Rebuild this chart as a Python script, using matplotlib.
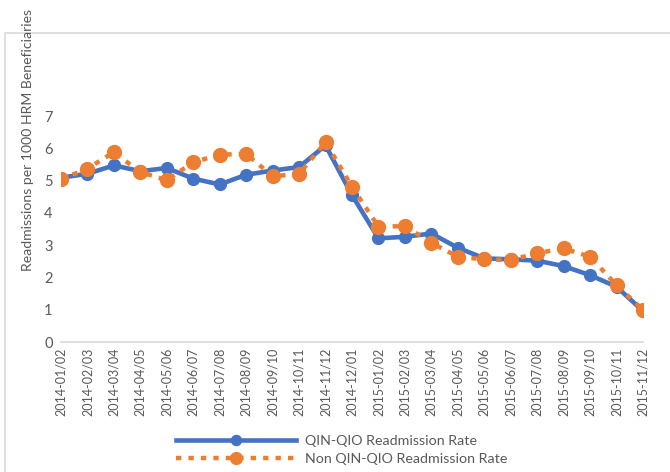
import matplotlib.pyplot as plt
from matplotlib.patches import Rectangle

# period labels (two-month windows)
periods = ['2014-01/02', '2014-02/03', '2014-03/04', '2014-04/05', '2014-05/06',
           '2014-06/07', '2014-07/08', '2014-08/09', '2014-09/10', '2014-10/11',
           '2014-11/12', '2014-12/01', '2015-01/02', '2015-02/03', '2015-03/04',
           '2015-04/05', '2015-05/06', '2015-06/07', '2015-07/08', '2015-08/09',
           '2015-09/10', '2015-10/11', '2015-11/12']

# readmissions per 1000 HRM beneficiaries
qin_qio = [5.09, 5.21, 5.47, 5.29, 5.39, 5.06, 4.88, 5.18, 5.31, 5.42, 6.09, 4.55,
           3.21, 3.26, 3.36, 2.92, 2.59, 2.56, 2.52, 2.35, 2.07, 1.71, 0.96]
non_qin_qio = [5.04, 5.37, 5.88, 5.26, 5.01, 5.57, 5.80, 5.83, 5.13, 5.21, 6.19, 4.81,
               3.57, 3.59, 3.07, 2.64, 2.56, 2.54, 2.75, 2.90, 2.64, 1.76, 0.99]

blue = '#4472C4'
orange = '#ED7D31'
grey = '#595959'

plt.rcParams['font.family'] = ['Lato', 'DejaVu Sans']

fig = plt.figure(figsize=(6.7, 4.72), dpi=100)
ax = fig.add_axes([61 / 670, 130 / 472, 582 / 670, 226 / 472])

x = list(range(len(periods)))
ax.plot(x, qin_qio, color=blue, lw=3.3, marker='o', ms=8.5,
        label='QIN-QIO Readmission Rate', zorder=2)
ax.plot(x, non_qin_qio, color=orange, lw=3.2, ls=(0, (1.2, 1.6)),
        dash_capstyle='butt', marker='o', ms=10,
        label='Non QIN-QIO Readmission Rate', zorder=3)

ax.set_xlim(0, len(periods) - 1)
ax.set_ylim(0, 7)
ax.set_yticks(range(8))
ax.set_xticks(x)
ax.set_xticklabels(periods, rotation=90, fontsize=9, color=grey)
ax.tick_params(axis='y', labelsize=10.5, colors=grey, length=0, pad=6)
ax.tick_params(axis='x', length=0, pad=4)
for s in ['top', 'right', 'left']:
    ax.spines[s].set_visible(False)
ax.spines['bottom'].set_color('#D9D9D9')
ax.spines['bottom'].set_linewidth(1.2)

# long axis title runs up close to the top edge, as in the original
fig.text(28 / 670, 1 - 271 / 472, 'Readmissions per 1000 HRM Beneficiaries',
         rotation=90, ha='center', va='bottom', fontsize=10.1, color=grey)

leg = fig.legend(loc='upper left', bbox_to_anchor=(163 / 670, 1 - 422 / 472),
                 frameon=False, fontsize=10.3, handlelength=8.4, handletextpad=0.6,
                 labelspacing=0.4, markerscale=0.85)
for t in leg.get_texts():
    t.set_color(grey)

fig.patches.append(Rectangle((5 / 670, -0.1), 1.2, 1 - 33 / 472 + 0.1,
                             transform=fig.transFigure, fill=False,
                             edgecolor='#D9D9D9', lw=1.2))

fig.savefig('out.png', dpi=100)
